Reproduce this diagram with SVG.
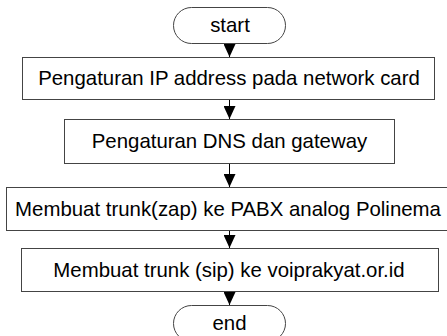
<svg xmlns="http://www.w3.org/2000/svg" width="447" height="336" viewBox="0 0 447 336">
<style>
.box{fill:#fff;stroke:#444;stroke-width:1}
.t{font-family:"Liberation Sans",Arial,sans-serif;font-size:20.4px;fill:#000;text-anchor:middle}
.c{stroke:#000;stroke-width:1;fill:none}
</style>
<defs>
<marker id="ah" markerUnits="userSpaceOnUse" markerWidth="13" markerHeight="12" refX="13" refY="6" orient="auto" viewBox="0 0 13 12">
<path d="M0,0 L13,6 L0,12 Z" fill="#000"/>
</marker>
</defs>
<rect width="447" height="336" fill="#fff"/>
<g id="connectors">
<path class="c" d="M229.5,43 V57" marker-end="url(#ah)"/>
<path class="c" d="M229.5,99 V119" marker-end="url(#ah)"/>
<path class="c" d="M229.5,163 V187" marker-end="url(#ah)"/>
<path class="c" d="M229.5,230 V248" marker-end="url(#ah)"/>
<path class="c" d="M229.5,291 V305" marker-end="url(#ah)"/>
</g>
<g id="start">
<rect class="box" x="173.5" y="7.5" width="112" height="36" rx="18" ry="18"/>
<text class="t" x="230" y="32">start</text>
</g>
<g id="step1">
<rect class="box" x="22.5" y="57.5" width="412" height="42"/>
<text class="t" x="229" y="85">Pengaturan IP address pada network card</text>
</g>
<g id="step2">
<rect class="box" x="64.5" y="119.5" width="330" height="44"/>
<text class="t" x="229.5" y="148">Pengaturan DNS dan gateway</text>
</g>
<g id="step3">
<rect class="box" x="6.5" y="187.5" width="444" height="43"/>
<text class="t" x="228" y="216">Membuat trunk(zap) ke PABX analog Polinema</text>
</g>
<g id="step4">
<rect class="box" x="21.5" y="248.5" width="417" height="43"/>
<text class="t" x="229" y="277">Membuat trunk (sip) ke voiprakyat.or.id</text>
</g>
<g id="end">
<rect class="box" x="173.5" y="305.5" width="112" height="36" rx="18" ry="18"/>
<text class="t" x="229.5" y="330">end</text>
</g>
</svg>
